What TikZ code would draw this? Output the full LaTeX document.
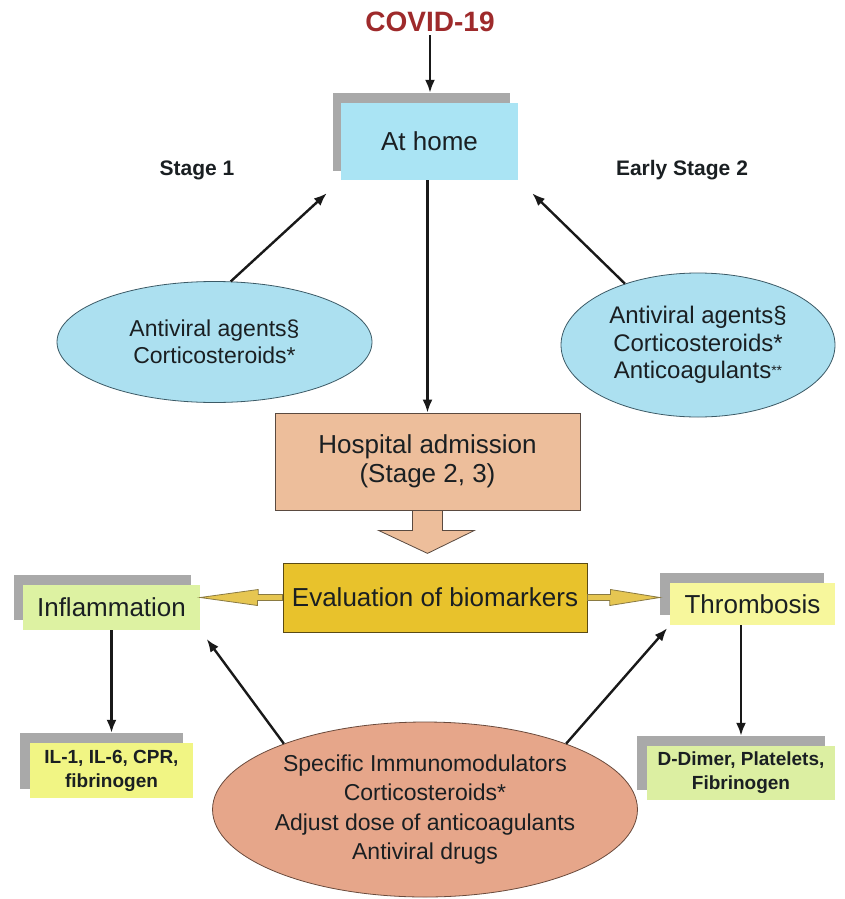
\documentclass[tikz,border=0pt]{standalone}
\usepackage{fontspec}
\setmainfont{Liberation Sans}
\usetikzlibrary{shapes.geometric,arrows.meta,calc}
\definecolor{covidred}{HTML}{9E2A2B}
\definecolor{txt}{HTML}{1A1F22}
\definecolor{homeblue}{HTML}{AAE4F4}
\definecolor{ellblue}{HTML}{ACE0F0}
\definecolor{ellblueb}{HTML}{3C5A66}
\definecolor{peach}{HTML}{EDBE9B}
\definecolor{peachb}{HTML}{5A4A40}
\definecolor{gold}{HTML}{E8C22C}
\definecolor{goldb}{HTML}{5A4A14}
\definecolor{inflgreen}{HTML}{DDF2A2}
\definecolor{thryellow}{HTML}{F7F79C}
\definecolor{ilyellow}{HTML}{F1F584}
\definecolor{ddgreen}{HTML}{DCEFA2}
\definecolor{salmon}{HTML}{E6A68A}
\definecolor{salmonb}{HTML}{6A4A3C}
\definecolor{shgray}{HTML}{A9A9A9}
\definecolor{yarrfill}{HTML}{E6C652}
\definecolor{yarrline}{HTML}{8A7A42}
\begin{document}
\begin{tikzpicture}[x=1pt,y=-1pt,
  box/.style={rectangle, inner sep=0pt, align=center, text=txt},
  shbox/.style={rectangle, fill=shgray, inner sep=0pt},
  ell/.style={ellipse, inner sep=0pt, align=center, text=txt},
  arr/.style={line width=2.4pt, draw=black!90, -{Latex[length=13pt,width=10pt]}},
  yarr/.style={fill=yarrfill, draw=yarrline, line width=0.8pt, line join=miter},
  blockarr/.style={fill=peach, draw=peachb, line width=0.8pt},
  big/.style={font=\fontsize{26}{29}\selectfont},
  mid/.style={font=\fontsize{23}{27}\selectfont},
  smallbold/.style={font=\bfseries\fontsize{19}{24}\selectfont}]
\useasboundingbox[fill=white] (0,0) rectangle (845,899);

% title
\node[text=covidred, font=\bfseries\fontsize{28}{30}\selectfont] (covid) at (430,22) {COVID-19};

% at home
\node[shbox, minimum width=177pt, minimum height=78pt] (homeS) at (421.5,132) {};
\node[box, big, fill=homeblue, minimum width=177pt, minimum height=77pt] (home) at (429.5,141.5) {At home};

% stage labels
\node[text=txt, font=\bfseries\fontsize{21}{24}\selectfont] (st1) at (197,170) {Stage 1};
\node[text=txt, font=\bfseries\fontsize{21}{24}\selectfont] (st2) at (682,170) {Early Stage 2};

% ellipses top
\node[ell, mid, fill=ellblue, draw=ellblueb, line width=0.8pt, minimum width=315pt, minimum height=121pt] (ellL) at (214.5,342) {Antiviral agents§\\Corticosteroids*};
\node[ell, font=\fontsize{24}{27.5}\selectfont, fill=ellblue, draw=ellblueb, line width=0.8pt, minimum width=274pt, minimum height=144pt] (ellR) at (698,345) {Antiviral agents§\\Corticosteroids*\\Anticoagulants\raisebox{3pt}{\fontsize{14}{14}\selectfont **}};

% hospital
\node[box, big, fill=peach, draw=peachb, line width=0.8pt, minimum width=305pt, minimum height=97pt] (hosp) at (427.5,461.5) {Hospital admission\\(Stage 2, 3)};

% evaluation
\node[box, font=\fontsize{26}{29}\selectfont, fill=gold, draw=goldb, line width=0.9pt, minimum width=304pt, minimum height=69pt] (eval) at (435,597.5) {Evaluation of biomarkers};

% inflammation
\node[shbox, minimum width=177pt, minimum height=45pt] (inflS) at (102.5,597.5) {};
\node[box, big, fill=inflgreen, minimum width=177pt, minimum height=45pt] (infl) at (111.5,607.5) {Inflammation};

% thrombosis
\node[shbox, minimum width=164pt, minimum height=42pt] (thrS) at (742,594) {};
\node[box, big, fill=thryellow, minimum width=165pt, minimum height=42pt] (thr) at (752.5,604) {Thrombosis};

% IL box
\node[shbox, minimum width=163pt, minimum height=56pt] (ilS) at (101.5,761) {};
\node[box, smallbold, fill=ilyellow, minimum width=163pt, minimum height=55pt] (il) at (111.5,770.5) {IL-1, IL-6, CPR,\\fibrinogen};

% D-Dimer box
\node[shbox, minimum width=188pt, minimum height=54pt] (ddS) at (731,763) {};
\node[box, smallbold, fill=ddgreen, minimum width=188pt, minimum height=54pt] (dd) at (741,773) {D-Dimer, Platelets,\\Fibrinogen};

% bottom ellipse
\node[ell, font=\fontsize{23}{29.5}\selectfont, fill=salmon, draw=salmonb, line width=0.8pt, minimum width=326pt, minimum height=175pt] (bot) at (425,809.5) {Specific Immunomodulators\\Corticosteroids*\\Adjust dose of anticoagulants\\Antiviral drugs};

% connectors
\draw[arr] (covid.south) -- (covid.south |- homeS.north);
\draw[arr] (ellL.75) -- ($(home.south west)+(-14,13)$);
\draw[arr] (ellR.140) -- ($(home.south east)+(14,13)$);
\draw[arr] (home.south -| hosp.north) -- (hosp.north);
\draw[arr] (infl.south) -- (infl.south |- ilS.north);
\draw[arr] (dd.north |- thr.south) -- (dd.north |- ddS.north);
\draw[arr, shorten >=11pt] (bot.155) -- (infl.south east);
\draw[arr, shorten >=4pt] (bot.25) -- (thr.south west);

% block arrow down
\draw[blockarr] ($(hosp.south)+(-15,0)$) -- ++(0,20) -- ++(-34,0) -- ($(hosp.south)+(0,43)$) -- ++(47,-23) -- ++(-32,0) -- ++(0,-20) -- cycle;

% yellow double arrows
\draw[yarr] (infl.east |- eval.west) -- ++(58,-8) -- ++(0,5) -- ($(eval.west)+(0,-3)$) -- ($(eval.west)+(0,3)$) -- ++(-25,0) -- ++(0,5) -- cycle;
\draw[yarr] ($(eval.east)+(0,-3)$) -- ++(23,0) -- ++(0,-5) -- (thrS.west |- eval.east) -- ++(-50,8) -- ++(0,-5) -- ($(eval.east)+(0,3)$) -- cycle;
\end{tikzpicture}
\end{document}
